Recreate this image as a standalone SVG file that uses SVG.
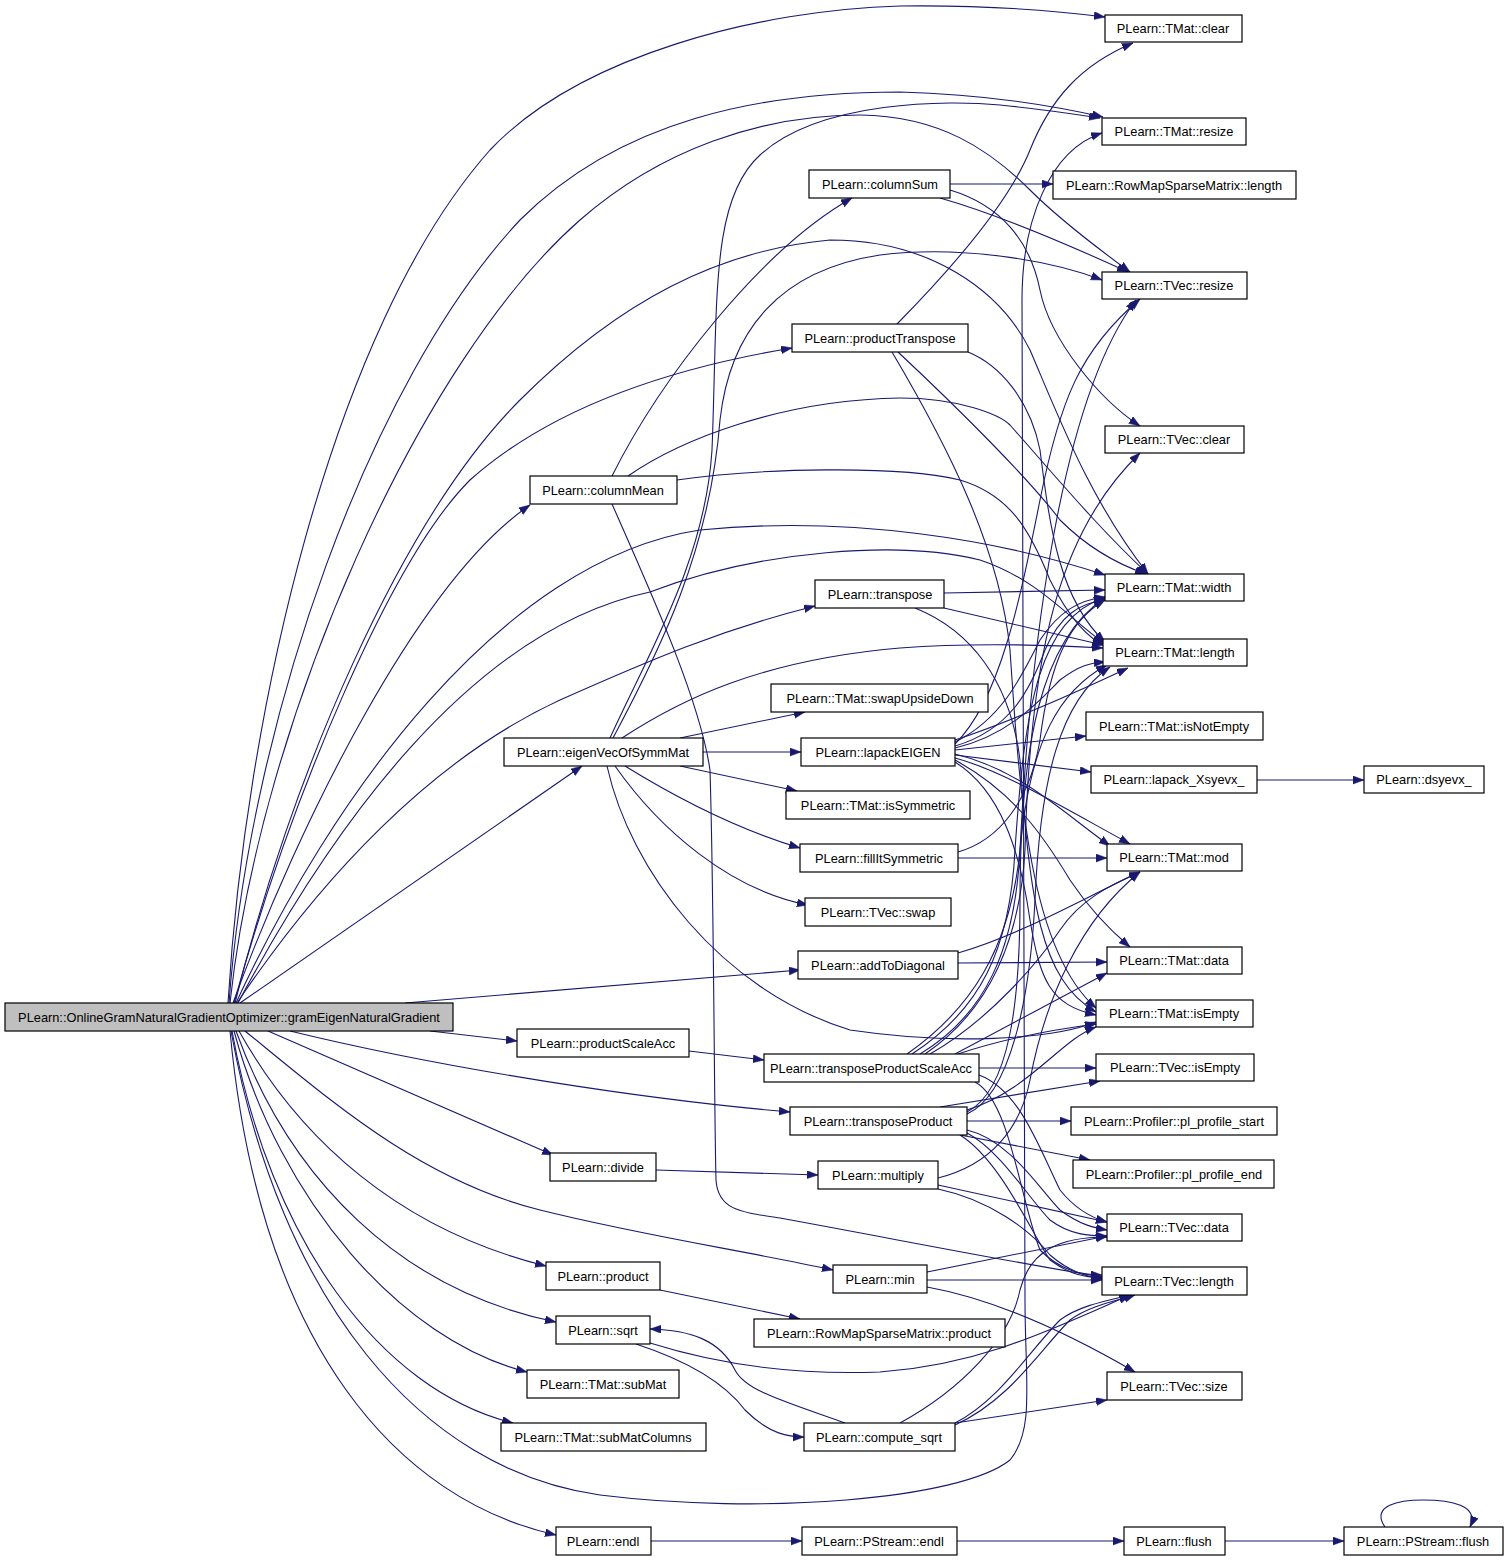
<svg xmlns="http://www.w3.org/2000/svg" width="1509" height="1562" viewBox="0 0 1509 1562">
<style>
.n rect{fill:#fff;stroke:#000;stroke-width:1.2}
.n text{font-family:"Liberation Sans",Arial,Helvetica,sans-serif;font-size:12.8px;fill:#000;text-anchor:middle}
#main rect{fill:#bfbfbf}
.e path{fill:none;stroke:#191970;stroke-width:1.1;marker-end:url(#a)}
</style>
<defs>
<marker id="a" markerUnits="userSpaceOnUse" markerWidth="12" markerHeight="9" refX="11" refY="4" orient="auto">
<path d="M0,0 L11,4 L0,8 z" fill="#191970" stroke="#191970" stroke-width="0.5"/>
</marker>
</defs>
<rect width="1509" height="1562" fill="#fff"/>
<g id="edges" class="e">
<!-- main -->
<path d="M228,1003 C245,720 330,330 490,150 C580,55 760,10 900,6 C980,5 1050,10 1105,17"/>
<path d="M229,1003 C250,720 370,380 520,220 C620,120 760,92 900,92 C980,94 1050,105 1103,117"/>
<path d="M230,1003 C260,720 420,360 580,220 C660,150 760,115 860,115 C940,116 990,150 1030,190 C1060,220 1100,250 1130,272"/>
<path d="M233,1003 C300,820 420,580 530,505"/>
<path d="M234,1003 C290,800 390,560 470,480 C560,400 690,365 792,348"/>
<path d="M235,1003 C290,780 400,520 520,400 C620,300 720,250 830,240 C930,240 1000,290 1030,350 C1060,420 1090,500 1148,574"/>
<path d="M236,1003 C330,800 500,560 700,530 C850,515 1000,540 1105,575"/>
<path d="M238,1003 C330,830 470,630 650,592 C760,550 900,540 980,560 C1040,580 1070,620 1104,643"/>
<path d="M237,1003 C320,880 430,760 560,700 C650,660 720,630 815,606"/>
<path d="M240,1003 L582,766"/>
<path d="M405,1003 L800,970"/>
<path d="M430,1031 L517,1041"/>
<path d="M290,1031 C450,1070 650,1100 790,1112"/>
<path d="M268,1031 L553,1155"/>
<path d="M245,1031 C330,1100 420,1180 540,1210 C640,1235 740,1250 833,1270"/>
<path d="M239,1031 C300,1140 400,1230 546,1266"/>
<path d="M236,1031 C290,1180 400,1290 556,1322"/>
<path d="M234,1031 C280,1200 400,1340 527,1372"/>
<path d="M232,1031 C270,1240 380,1390 513,1423"/>
<path d="M231,1031 C280,1300 420,1470 600,1495 C760,1515 960,1500 1010,1460 C1035,1430 1025,1380 1025,1300 L1022,300 C1022,220 1050,150 1102,133"/>
<path d="M230,1031 C260,1350 400,1500 556,1535"/>
<!-- columnMean -->
<path d="M612,476 C660,380 760,250 852,198"/>
<path d="M612,504 C650,590 700,700 710,770 C714,900 714,1100 716,1180 C718,1210 740,1212 780,1218 C900,1240 1000,1260 1102,1277"/>
<path d="M628,476 C680,440 780,400 900,398 C960,398 1000,415 1010,425 C1050,470 1100,530 1148,574"/>
<path d="M677,480 C760,468 900,465 960,480 C1010,495 1030,530 1050,580 C1070,620 1090,640 1105,645"/>
<!-- columnSum -->
<path d="M950,184 L1053,184"/>
<path d="M940,198 C1000,215 1080,250 1128,272"/>
<path d="M950,190 C1000,205 1030,240 1040,290 C1050,340 1100,400 1140,426"/>
<!-- productTranspose -->
<path d="M897,324 C960,260 1010,200 1030,150 C1050,100 1080,65 1133,43"/>
<path d="M898,352 C960,410 1030,480 1060,520 C1090,550 1120,565 1146,574"/>
<path d="M968,352 C1000,365 1030,400 1040,450 C1050,530 1060,600 1105,642"/>
<path d="M892,352 C950,450 1000,550 1010,650 C1020,800 1030,950 1096,1008"/>
<!-- transpose -->
<path d="M944,593 L1105,590"/>
<path d="M944,608 L1103,645"/>
<path d="M915,608 C970,630 1010,680 1020,760 C1030,900 1040,980 1096,1012"/>
<!-- eigenVecOfSymmMat -->
<path d="M610,738 C650,650 705,560 712,450 C718,300 710,200 760,155 C820,100 950,100 1000,105 C1050,110 1080,115 1100,118"/>
<path d="M613,738 C660,650 710,550 720,420 C730,330 780,270 880,255 C960,245 1050,260 1102,280"/>
<path d="M622,738 C680,700 760,660 900,648 C980,642 1050,645 1103,648"/>
<path d="M680,738 L805,712"/>
<path d="M703,752 L801,752"/>
<path d="M680,766 L797,791"/>
<path d="M625,766 C680,800 740,830 800,848"/>
<path d="M615,766 C660,830 730,890 808,905"/>
<path d="M607,766 C630,870 720,990 850,1030 C950,1045 1050,1040 1096,1022"/>
<!-- lapackEIGEN -->
<path d="M955,742 C1000,720 1020,680 1040,640 C1060,610 1080,600 1105,597"/>
<path d="M955,746 C1010,730 1030,690 1045,650 C1060,615 1080,603 1105,600"/>
<path d="M955,740 C1000,725 1060,700 1128,668"/>
<path d="M955,748 C1010,735 1040,700 1060,680 C1080,665 1090,663 1105,662"/>
<path d="M955,744 C1000,700 1020,600 1040,500 C1060,400 1080,350 1140,299"/>
<path d="M955,750 L1086,736"/>
<path d="M955,755 L1091,772"/>
<path d="M955,754 C1020,770 1060,810 1110,846"/>
<path d="M955,758 C1000,770 1050,800 1130,844"/>
<path d="M955,760 C1010,790 1040,830 1070,880 C1090,910 1110,930 1130,947"/>
<path d="M955,762 C1000,790 1020,850 1030,920 C1040,980 1050,1005 1096,1015"/>
<!-- fillItSymmetric -->
<path d="M958,858 L1107,858"/>
<path d="M958,852 C1000,840 1030,800 1040,740 C1050,660 1070,620 1105,600"/>
<!-- addToDiagonal -->
<path d="M958,963 L1107,962"/>
<path d="M958,953 C1020,935 1080,900 1140,872"/>
<!-- productScaleAcc -->
<path d="M689,1051 L764,1060"/>
<!-- transposeProductScaleAcc -->
<path d="M907,1054 C970,1010 1010,950 1020,850 C1030,650 1060,400 1136,300"/>
<path d="M912,1054 C980,1010 1010,950 1015,850 C1025,700 1040,620 1105,597"/>
<path d="M920,1054 C985,1015 1015,950 1020,850 C1030,740 1060,690 1107,665"/>
<path d="M925,1054 C990,1010 1020,940 1025,850 C1030,650 1060,530 1140,453"/>
<path d="M930,1054 C990,1020 1040,960 1060,930 C1080,900 1110,885 1140,872"/>
<path d="M955,1054 L1107,973"/>
<path d="M958,1054 C1000,1040 1050,1030 1096,1024"/>
<path d="M979,1068 L1096,1068"/>
<path d="M979,1075 C1020,1090 1040,1150 1060,1190 C1080,1215 1100,1220 1107,1222"/>
<path d="M975,1082 C1010,1100 1020,1200 1040,1250 C1060,1270 1080,1275 1102,1275"/>
<!-- transposeProduct -->
<path d="M967,1112 C1010,1090 1020,1000 1020,900 C1020,750 1040,640 1105,598"/>
<path d="M967,1114 C1010,1095 1030,1000 1035,900 C1040,780 1060,700 1110,667"/>
<path d="M967,1110 C1030,1090 1060,1040 1096,1027"/>
<path d="M940,1107 L1100,1081"/>
<path d="M967,1121 L1071,1121"/>
<path d="M960,1135 L1090,1160"/>
<path d="M967,1130 C1010,1140 1040,1190 1060,1210 C1080,1225 1095,1228 1107,1230"/>
<path d="M967,1133 C1000,1150 1030,1200 1050,1220 C1070,1235 1090,1236 1107,1236"/>
<path d="M960,1135 C1000,1160 1030,1230 1050,1260 C1070,1275 1085,1277 1102,1278"/>
<!-- divide / multiply -->
<path d="M656,1170 L818,1175"/>
<path d="M938,1185 L1107,1222"/>
<path d="M938,1189 C990,1200 1030,1230 1050,1255 C1070,1272 1085,1276 1102,1279"/>
<path d="M938,1178 C990,1165 1020,1130 1030,1080 C1045,1000 1080,920 1140,872"/>
<!-- min -->
<path d="M927,1272 L1107,1236"/>
<path d="M927,1280 L1102,1280"/>
<path d="M927,1287 C1000,1300 1080,1340 1135,1372"/>
<!-- product -->
<path d="M660,1290 L800,1319"/>
<!-- sqrt -->
<path d="M636,1344 C700,1365 730,1390 745,1410 C770,1435 790,1437 804,1437"/>
<path d="M650,1343 C720,1365 800,1375 880,1372 C980,1365 1050,1330 1130,1295"/>
<!-- compute_sqrt -->
<path d="M845,1423 C780,1400 745,1390 735,1370 C720,1340 690,1330 650,1329"/>
<path d="M900,1423 C960,1390 1010,1340 1020,1290 C1030,1250 1060,1237 1107,1237"/>
<path d="M955,1423 C1000,1400 1030,1350 1060,1320 C1080,1305 1110,1300 1130,1295"/>
<path d="M955,1425 C1010,1400 1040,1350 1070,1320 C1090,1305 1120,1300 1135,1295"/>
<path d="M955,1423 L1107,1400"/>
<!-- endl chain -->
<path d="M651,1541 L802,1541"/>
<path d="M957,1541 L1124,1541"/>
<path d="M1225,1541 L1344,1541"/>
<path d="M1385,1527 C1370,1505 1400,1500 1423,1500 C1450,1500 1480,1505 1470,1527"/>
<!-- lapack_Xsyevx_ -->
<path d="M1257,780 L1364,780"/>
</g>
<g id="main" class="n"><rect x="5" y="1003" width="448" height="28"/><text x="229" y="1021.5">PLearn::OnlineGramNaturalGradientOptimizer::gramEigenNaturalGradient</text></g>
<g id="tmat_clear" class="n"><rect x="1105" y="15" width="137" height="27"/><text x="1173" y="33">PLearn::TMat::clear</text></g>
<g id="tmat_resize" class="n"><rect x="1102" y="118" width="144" height="27"/><text x="1174" y="136">PLearn::TMat::resize</text></g>
<g id="rmsm_length" class="n"><rect x="1053" y="171" width="243" height="28"/><text x="1174" y="189.5">PLearn::RowMapSparseMatrix::length</text></g>
<g id="tvec_resize" class="n"><rect x="1102" y="272" width="145" height="27"/><text x="1174" y="290">PLearn::TVec::resize</text></g>
<g id="tvec_clear" class="n"><rect x="1105" y="426" width="139" height="27"/><text x="1174" y="444">PLearn::TVec::clear</text></g>
<g id="tmat_width" class="n"><rect x="1105" y="574" width="139" height="27"/><text x="1174" y="592">PLearn::TMat::width</text></g>
<g id="tmat_length" class="n"><rect x="1103" y="639" width="144" height="27"/><text x="1175" y="657">PLearn::TMat::length</text></g>
<g id="tmat_isnotempty" class="n"><rect x="1086" y="712" width="177" height="28"/><text x="1174" y="730.5">PLearn::TMat::isNotEmpty</text></g>
<g id="lapack_xsyevx" class="n"><rect x="1091" y="766" width="166" height="27"/><text x="1174" y="784">PLearn::lapack_Xsyevx_</text></g>
<g id="dsyevx" class="n"><rect x="1364" y="766" width="120" height="27"/><text x="1424" y="784">PLearn::dsyevx_</text></g>
<g id="tmat_mod" class="n"><rect x="1107" y="844" width="135" height="27"/><text x="1174" y="862">PLearn::TMat::mod</text></g>
<g id="tmat_data" class="n"><rect x="1107" y="947" width="135" height="27"/><text x="1174" y="965">PLearn::TMat::data</text></g>
<g id="tmat_isempty" class="n"><rect x="1096" y="1000" width="157" height="27"/><text x="1174" y="1018">PLearn::TMat::isEmpty</text></g>
<g id="tvec_isempty" class="n"><rect x="1096" y="1054" width="158" height="27"/><text x="1175" y="1072">PLearn::TVec::isEmpty</text></g>
<g id="pl_profile_start" class="n"><rect x="1071" y="1107" width="206" height="28"/><text x="1174" y="1125.5">PLearn::Profiler::pl_profile_start</text></g>
<g id="pl_profile_end" class="n"><rect x="1073" y="1160" width="201" height="28"/><text x="1174" y="1178.5">PLearn::Profiler::pl_profile_end</text></g>
<g id="tvec_data" class="n"><rect x="1107" y="1214" width="135" height="27"/><text x="1174" y="1232">PLearn::TVec::data</text></g>
<g id="tvec_length" class="n"><rect x="1102" y="1267" width="145" height="28"/><text x="1174" y="1285.5">PLearn::TVec::length</text></g>
<g id="tvec_size" class="n"><rect x="1107" y="1372" width="135" height="28"/><text x="1174" y="1390.5">PLearn::TVec::size</text></g>
<g id="flush" class="n"><rect x="1124" y="1527" width="101" height="28"/><text x="1174" y="1545.5">PLearn::flush</text></g>
<g id="pstream_flush" class="n"><rect x="1344" y="1527" width="159" height="28"/><text x="1423" y="1545.5">PLearn::PStream::flush</text></g>
<g id="columnsum" class="n"><rect x="809" y="170" width="141" height="28"/><text x="880" y="188.5">PLearn::columnSum</text></g>
<g id="producttranspose" class="n"><rect x="792" y="324" width="176" height="28"/><text x="880" y="342.5">PLearn::productTranspose</text></g>
<g id="columnmean" class="n"><rect x="530" y="476" width="147" height="28"/><text x="603" y="494.5">PLearn::columnMean</text></g>
<g id="transpose" class="n"><rect x="815" y="580" width="129" height="28"/><text x="880" y="598.5">PLearn::transpose</text></g>
<g id="swapupsidedown" class="n"><rect x="771" y="684" width="217" height="28"/><text x="880" y="702.5">PLearn::TMat::swapUpsideDown</text></g>
<g id="eigenvecofsymmmat" class="n"><rect x="504" y="738" width="199" height="28"/><text x="603" y="756.5">PLearn::eigenVecOfSymmMat</text></g>
<g id="lapackeigen" class="n"><rect x="801" y="738" width="154" height="28"/><text x="878" y="756.5">PLearn::lapackEIGEN</text></g>
<g id="issymmetric" class="n"><rect x="786" y="791" width="184" height="28"/><text x="878" y="809.5">PLearn::TMat::isSymmetric</text></g>
<g id="fillitsymmetric" class="n"><rect x="800" y="844" width="158" height="28"/><text x="879" y="862.5">PLearn::fillItSymmetric</text></g>
<g id="tvec_swap" class="n"><rect x="805" y="898" width="146" height="28"/><text x="878" y="916.5">PLearn::TVec::swap</text></g>
<g id="addtodiagonal" class="n"><rect x="798" y="951" width="160" height="28"/><text x="878" y="969.5">PLearn::addToDiagonal</text></g>
<g id="productscaleacc" class="n"><rect x="517" y="1029" width="172" height="28"/><text x="603" y="1047.5">PLearn::productScaleAcc</text></g>
<g id="transposeproductscaleacc" class="n"><rect x="764" y="1054" width="215" height="28"/><text x="871" y="1072.5">PLearn::transposeProductScaleAcc</text></g>
<g id="transposeproduct" class="n"><rect x="790" y="1107" width="177" height="28"/><text x="878" y="1125.5">PLearn::transposeProduct</text></g>
<g id="divide" class="n"><rect x="550" y="1153" width="106" height="28"/><text x="603" y="1171.5">PLearn::divide</text></g>
<g id="multiply" class="n"><rect x="818" y="1161" width="120" height="28"/><text x="878" y="1179.5">PLearn::multiply</text></g>
<g id="product" class="n"><rect x="546" y="1262" width="114" height="28"/><text x="603" y="1280.5">PLearn::product</text></g>
<g id="min" class="n"><rect x="833" y="1265" width="94" height="28"/><text x="880" y="1283.5">PLearn::min</text></g>
<g id="rmsm_product" class="n"><rect x="754" y="1319" width="251" height="28"/><text x="879" y="1337.5">PLearn::RowMapSparseMatrix::product</text></g>
<g id="sqrt" class="n"><rect x="556" y="1316" width="94" height="28"/><text x="603" y="1334.5">PLearn::sqrt</text></g>
<g id="submat" class="n"><rect x="527" y="1370" width="152" height="28"/><text x="603" y="1388.5">PLearn::TMat::subMat</text></g>
<g id="submatcolumns" class="n"><rect x="501" y="1423" width="205" height="28"/><text x="603" y="1441.5">PLearn::TMat::subMatColumns</text></g>
<g id="compute_sqrt" class="n"><rect x="804" y="1423" width="151" height="28"/><text x="879" y="1441.5">PLearn::compute_sqrt</text></g>
<g id="endl" class="n"><rect x="556" y="1527" width="95" height="28"/><text x="603" y="1545.5">PLearn::endl</text></g>
<g id="pstream_endl" class="n"><rect x="802" y="1527" width="155" height="28"/><text x="879" y="1545.5">PLearn::PStream::endl</text></g>
</svg>
